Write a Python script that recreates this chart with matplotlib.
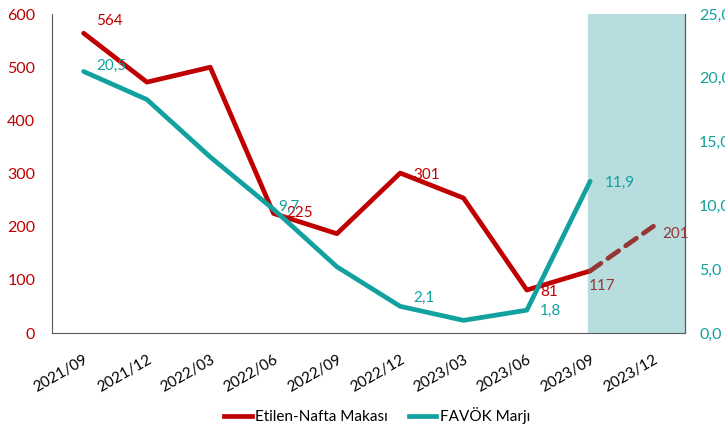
import numpy as np
import matplotlib.pyplot as plt

plt.rcParams['font.family'] = ['Lato', 'DejaVu Sans']

donemler = ['2021/09', '2021/12', '2022/03', '2022/06', '2022/09',
            '2022/12', '2023/03', '2023/06', '2023/09', '2023/12']
makas = [564, 472, 500, 225, 187, 301, 254, 81, 117, 201]
favok = [20.5, 18.3, 13.8, 9.7, 5.2, 2.1, 1.0, 1.8, 11.9]

kirmizi = '#C00000'
koyu_kirmizi = '#953735'
turkuaz = '#11A19E'

x = np.arange(len(donemler))

fig = plt.figure(figsize=(7.25, 4.26), dpi=100)
ax = fig.add_axes([0.0717, 0.218, 0.8733, 0.749])
ax2 = ax.twinx()

ax.axvspan(7.97, 9.5, color='#B7DDDF', zorder=0)

ax.plot(x[:9], makas[:9], color=kirmizi, lw=3.4, solid_capstyle='round', zorder=3)
ax.plot(x[8:], makas[8:], color=koyu_kirmizi, lw=3.4, ls=(0, (2.8, 1.8)),
        dash_capstyle='round', zorder=3)
ax2.plot(x[:9], favok, color=turkuaz, lw=3.4, solid_capstyle='round', zorder=3)

ax.set_xlim(-0.5, 9.5)
ax.set_ylim(0, 600)
ax2.set_ylim(0, 25)
ax.set_yticks(range(0, 601, 100))
ax2.set_yticks(range(0, 26, 5))
ax2.set_yticklabels([f'{v},0' for v in range(0, 26, 5)])

ax.set_xticks(x)
ax.set_xticklabels(donemler, rotation=30, ha='right', rotation_mode='anchor', fontsize=11)
ax.tick_params(axis='x', length=0, pad=14)
ax.tick_params(axis='y', length=0, colors=kirmizi, labelsize=11.5, pad=12)
ax2.tick_params(axis='y', length=0, colors=turkuaz, labelsize=11.5, pad=10)

for a in (ax, ax2):
    a.spines['top'].set_visible(False)
    for s in ('left', 'bottom', 'right'):
        a.spines[s].set_color('#595959')
ax2.spines['left'].set_visible(False)
ax2.spines['bottom'].set_visible(False)

# veri etiketleri (piksel kaydirmalari, etiket sol-orta noktasina gore)
px = 0.72
etk = {0: (12, 12, kirmizi), 3: (13, 0, kirmizi), 5: (13, -2, kirmizi),
       7: (13, -2, kirmizi), 8: (-1, -15, koyu_kirmizi), 9: (9, -8, koyu_kirmizi)}
for i, (dx, dy, c) in etk.items():
    ax.annotate(str(makas[i]), (x[i], makas[i]), xytext=(dx * px, dy * px),
                textcoords='offset points', color=c, fontsize=11, va='center', zorder=5)
etk2 = {0: (13, 6), 3: (5, 2), 5: (13, 8), 7: (13, -1), 8: (15, -2)}
for i, (dx, dy) in etk2.items():
    ax2.annotate(f'{favok[i]:.1f}'.replace('.', ','), (x[i], favok[i]),
                 xytext=(dx * px, dy * px), textcoords='offset points',
                 color=turkuaz, fontsize=11, va='center', zorder=5)

h1, = ax.plot([], [], color=kirmizi, lw=3.4)
h2, = ax.plot([], [], color=turkuaz, lw=3.4)
fig.legend([h1, h2], ['Etilen-Nafta Makası', 'FAVÖK Marjı'], loc='center',
           bbox_to_anchor=(0.52, 0.025), ncol=2, frameon=False, fontsize=11,
           handlelength=1.8, handletextpad=0.2, columnspacing=1.4)

fig.savefig('out.png', dpi=100)
